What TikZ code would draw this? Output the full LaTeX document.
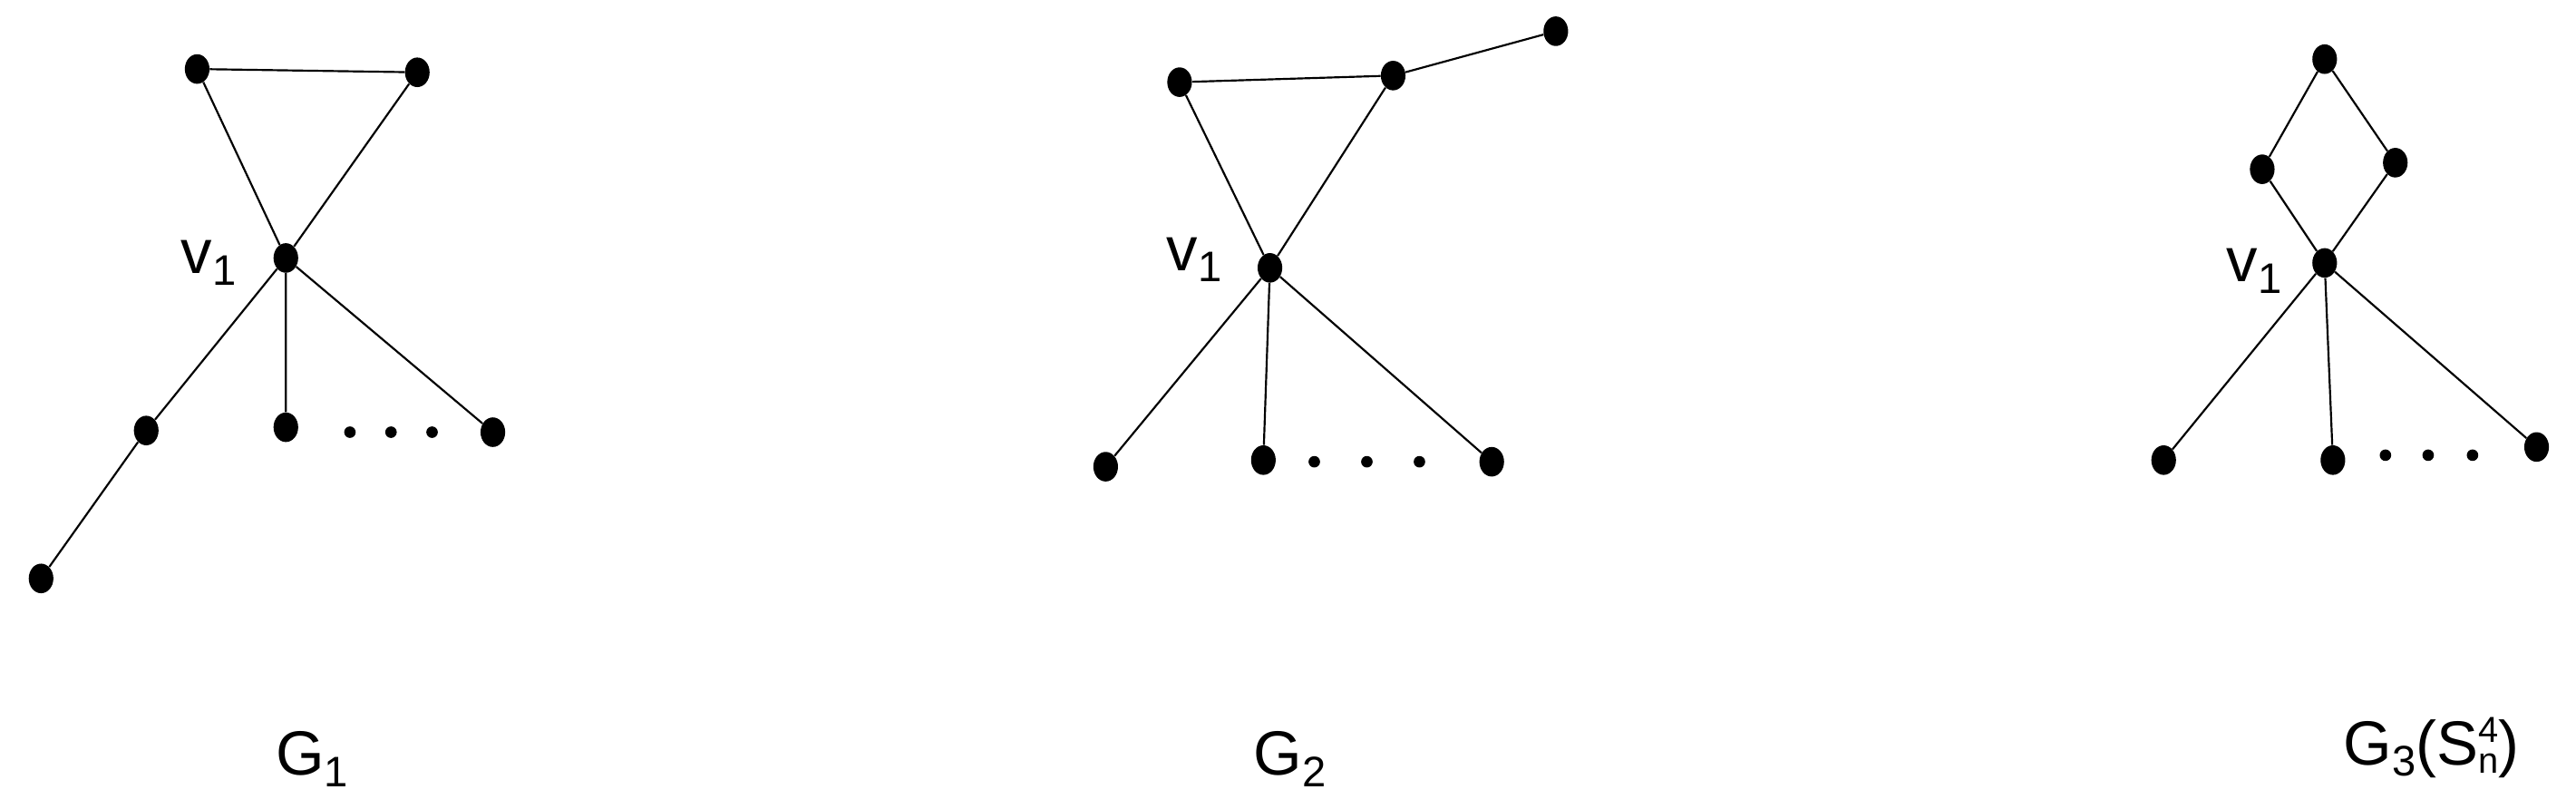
\documentclass[tikz,border=0pt]{standalone}
\usepackage{fontspec}
\setmainfont{Liberation Sans}
\usetikzlibrary{shapes.geometric}
\newcommand{\lsub}[1]{\raisebox{-0.35ex}{\fontsize{26}{30}\selectfont #1}}
\newcommand{\lsubsup}[2]{{\fontsize{22}{26}\selectfont\rlap{\raisebox{1.15ex}{#2}}\raisebox{-0.45ex}{#1}}}
\begin{document}
\begin{tikzpicture}[x=1pt,y=-1pt,
  vtx/.style={ellipse,fill=black,inner sep=0pt,minimum width=15pt,minimum height=18pt},
  dt/.style={circle,fill=black,inner sep=0pt,minimum size=7pt},
  lbl/.style={font=\fontsize{38}{44}\selectfont},
  edge/.style={line width=1.2pt}]
\useasboundingbox (0,0) rectangle (1568,492);
% G1
\node[vtx] (a1) at (120,42) {};
\node[vtx] (b1) at (254,44) {};
\node[vtx] (v1) at (174,157) {};
\node[vtx] (c1) at (89,262) {};
\node[vtx] (d1) at (25,352) {};
\node[vtx] (e1) at (174,260) {};
\node[vtx] (f1) at (300,263) {};
\foreach \i/\x in {1/213,2/238,3/263} \node[dt] (p1\i) at (\x,263) {};
\draw[edge] (a1)--(b1) (a1)--(v1) (b1)--(v1) (v1)--(c1) (c1)--(d1) (v1)--(e1) (v1)--(f1);
\node[lbl] (l1) at (127,160) {v\lsub{1}};
\node[lbl] (g1) at (190,462) {G\lsub{1}};
% G2
\node[vtx] (a2) at (718,50) {};
\node[vtx] (b2) at (848,46) {};
\node[vtx] (t2) at (947,19) {};
\node[vtx] (v2) at (773,163) {};
\node[vtx] (c2) at (673,284) {};
\node[vtx] (e2) at (769,280) {};
\node[vtx] (f2) at (908,281) {};
\foreach \i/\x in {1/800,2/832,3/864} \node[dt] (p2\i) at (\x,281) {};
\draw[edge] (a2)--(b2) (b2)--(t2) (a2)--(v2) (b2)--(v2) (v2)--(c2) (v2)--(e2) (v2)--(f2);
\node[lbl] (l2) at (727,158) {v\lsub{1}};
\node[lbl] (g2) at (785,462) {G\lsub{2}};
% G3
\node[vtx] (a3) at (1415,36) {};
\node[vtx] (b3) at (1377,103) {};
\node[vtx] (r3) at (1458,99) {};
\node[vtx] (v3) at (1415,160) {};
\node[vtx] (c3) at (1317,280) {};
\node[vtx] (e3) at (1420,280) {};
\node[vtx] (f3) at (1544,272) {};
\foreach \i/\x in {1/1452,2/1478,3/1505} \node[dt] (p3\i) at (\x,277) {};
\draw[edge] (a3)--(b3) (a3)--(r3) (b3)--(v3) (r3)--(v3) (v3)--(c3) (v3)--(e3) (v3)--(f3);
\node[lbl] (l3) at (1372,165) {v\lsub{1}};
\node[lbl] (g3) at (1480,455) {G\lsub{3}(S\lsubsup{n}{4})};
\end{tikzpicture}
\end{document}
